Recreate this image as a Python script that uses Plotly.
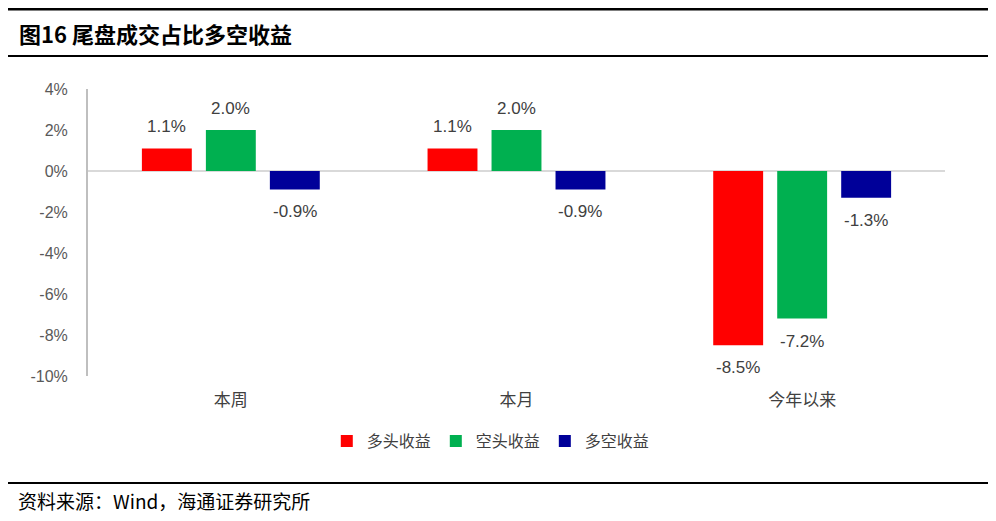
import plotly.graph_objects as go

categories = ["本周", "本月", "今年以来"]
series_names = ["多头收益", "空头收益", "多空收益"]
long_ret = [1.1, 1.1, -8.5]
short_ret = [2.0, 2.0, -7.2]
ls_ret = [-0.9, -0.9, -1.3]
colors = ["#FF0000", "#00B050", "#000099"]
tick_vals = [4, 2, 0, -2, -4, -6, -8, -10]

OFF = 8  # page body margin
W, H = 988, 513
L, R, T, B = 80, 51, 81, 145
pw, ph = W - L - R, H - T - B

def px_x(x):
    return (x - OFF - L) / pw

def px_y(y):
    return (H - B - (y - OFF)) / ph

fig = go.Figure()
all_series = [long_ret, short_ret, ls_ret]
for name, vals, c in zip(series_names, all_series, colors):
    fig.add_trace(go.Bar(
        x=categories, y=[v / 100 for v in vals], name=name,
        marker=dict(color=c, line=dict(width=0)),
    ))

slot = (1 - 0.328) * pw / 3 / 3
annotations = []
for i, vals in enumerate(all_series):
    for cat, v in zip(categories, vals):
        annotations.append(dict(
            x=cat, y=v / 100, xref="x", yref="y", text=f"{v:.1f}%", showarrow=False,
            xshift=(i - 1) * slot, yshift=10 if v >= 0 else -11,
            yanchor="bottom" if v >= 0 else "top",
            font=dict(family="Arial, Liberation Sans", size=17, color="#404040"),
        ))

annotations += [
    dict(text="<b>图16 尾盘成交占比多空收益</b>", xref="paper", yref="paper",
         x=px_x(17), y=px_y(33), xanchor="left", yanchor="middle", showarrow=False,
         font=dict(family="Noto Sans CJK SC", size=22, color="black")),
    dict(text="资料来源：Wind，海通证券研究所", xref="paper", yref="paper",
         x=px_x(16), y=px_y(500), xanchor="left", yanchor="middle", showarrow=False,
         font=dict(family="Noto Sans CJK SC", size=19, color="black")),
]

fig.update_layout(
    width=W, height=H,
    margin=dict(l=L, r=R, t=T, b=B),
    paper_bgcolor="white", plot_bgcolor="white",
    barmode="group", bargap=0.328, bargroupgap=0.22,
    showlegend=True,
    legend=dict(orientation="h", x=0.47, xanchor="center", y=px_y(441), yanchor="middle",
                font=dict(family="Noto Sans CJK SC", size=16, color="#404040"),
                itemwidth=30, traceorder="normal"),
    xaxis=dict(showline=False, ticks="", showgrid=False, ticklabelstandoff=12,
               tickfont=dict(family="Noto Sans CJK SC", size=17, color="#404040")),
    yaxis=dict(range=[-0.10, 0.04], tickvals=[v / 100 for v in tick_vals],
               ticktext=[f"{v}%" for v in tick_vals],
               showgrid=False, zeroline=True, zerolinecolor="#D9D9D9", zerolinewidth=2,
               showline=True, linecolor="#BFBFBF", linewidth=2,
               ticks="", ticklen=0, ticklabelstandoff=15,
               tickfont=dict(family="Arial, Liberation Sans", size=16, color="#595959")),
    shapes=[
        dict(type="line", xref="paper", yref="paper", x0=px_x(0), x1=px_x(990),
             y0=px_y(9), y1=px_y(9), line=dict(color="black", width=3)),
        dict(type="line", xref="paper", yref="paper", x0=px_x(0), x1=px_x(990),
             y0=px_y(56), y1=px_y(56), line=dict(color="black", width=2)),
        dict(type="line", xref="paper", yref="paper", x0=px_x(0), x1=px_x(990),
             y0=px_y(483), y1=px_y(483), line=dict(color="black", width=2)),
    ],
    annotations=annotations,
)

fig.write_html("out.html")
